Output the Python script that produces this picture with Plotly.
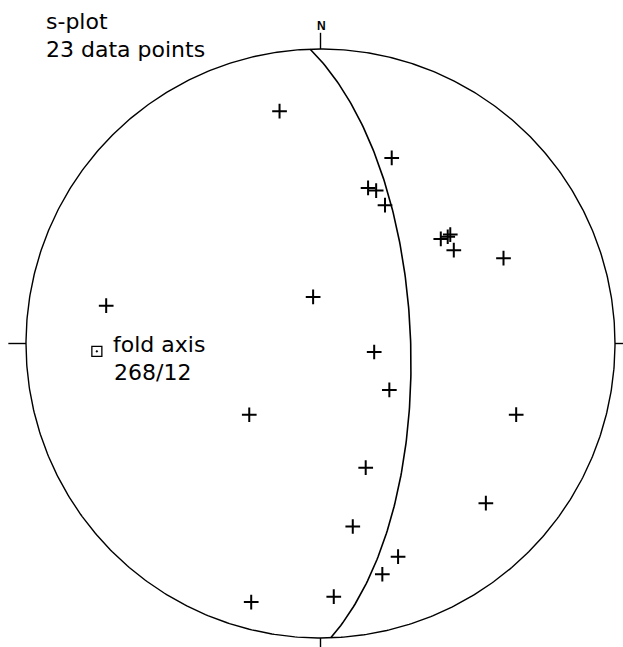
import numpy as np
import plotly.graph_objects as go

# Poles to s-surfaces (trend, plunge in degrees)
pole_trend = [350, 280, 21, 17, 20, 25, 49, 50, 50, 55, 65, 351,
              225, 195, 99, 124, 110, 160, 134, 170, 160, 165, 177]
pole_plunge = [21, 27, 33, 44, 44, 47, 45, 43, 42, 44, 32, 77,
               62, 10, 75, 67, 30, 53, 23, 37, 24, 20, 15]

# Fold axis (pole of the best-fit girdle)
fold_axis_trend = 268
fold_axis_plunge = 25

title_lines = ["s-plot", "23 data points"]
fold_label_lines = ["fold axis", "268/12"]


def project(trend, plunge):
    """Lower-hemisphere equal-area (Schmidt) projection."""
    t = np.radians(np.asarray(trend, dtype=float))
    p = np.radians(np.asarray(plunge, dtype=float))
    r = np.sqrt(2.0) * np.sin((np.pi / 2 - p) / 2)
    return r * np.sin(t), r * np.cos(t)


def girdle(pole_t, pole_p, n=181):
    """Great circle of the plane whose pole is (pole_t, pole_p)."""
    dip_dir = (pole_t + 180) % 360
    dip = 90 - pole_p
    strike = (dip_dir - 90) % 360

    def vec(t, p):
        t, p = np.radians(t), np.radians(p)
        return np.array([np.cos(p) * np.cos(t), np.cos(p) * np.sin(t), np.sin(p)])

    s = vec(strike, 0)
    d = vec(dip_dir, dip)
    a = np.radians(np.linspace(0, 180, n))
    v = np.outer(np.cos(a), s) + np.outer(np.sin(a), d)
    v[v[:, 2] < 0] *= -1
    tr = np.degrees(np.arctan2(v[:, 1], v[:, 0])) % 360
    pl = np.degrees(np.arcsin(np.clip(v[:, 2], -1, 1)))
    return project(tr, pl)


fig = go.Figure()

# primitive circle
th = np.linspace(0, 2 * np.pi, 721)
fig.add_trace(go.Scatter(x=np.cos(th), y=np.sin(th), mode="lines",
                         line=dict(color="black", width=1.4), hoverinfo="skip"))

# cardinal ticks
tick = 0.06
for x0, y0, x1, y1 in [(0, 1, 0, 1 + 0.055), (-1, 0, -1 - tick, 0),
                       (1, 0, 1 + tick, 0), (0, -1, 0, -1 - tick)]:
    fig.add_trace(go.Scatter(x=[x0, x1], y=[y0, y1], mode="lines",
                             line=dict(color="black", width=1.4), hoverinfo="skip"))

# girdle
gx, gy = girdle(fold_axis_trend, fold_axis_plunge)
fig.add_trace(go.Scatter(x=gx, y=gy, mode="lines",
                         line=dict(color="black", width=1.6), hoverinfo="skip"))

# poles
px, py = project(pole_trend, pole_plunge)
fig.add_trace(go.Scatter(x=px, y=py, mode="markers",
                         marker=dict(symbol="cross-thin", size=10.5,
                                     line=dict(color="black", width=2))))

# fold axis
fx, fy = project([fold_axis_trend], [fold_axis_plunge])
fig.add_trace(go.Scatter(x=fx, y=fy, mode="markers",
                         marker=dict(symbol="square-open-dot", size=10, color="black",
                                     line=dict(color="black", width=1.3))))

font = dict(family="DejaVu Sans", size=22, color="black")
annotations = [
    dict(x=0.005, y=1.078, text="<b>N</b>", showarrow=False, xanchor="center",
         yanchor="middle", font=dict(family="Liberation Sans", size=12, color="black")),
    dict(x=-0.94, y=1.093, text=title_lines[0], showarrow=False,
         xanchor="left", yanchor="middle", font=font),
    dict(x=-0.94, y=0.997, text=title_lines[1], showarrow=False,
         xanchor="left", yanchor="middle", font=font),
    dict(x=-0.712, y=-0.005, text=fold_label_lines[0], showarrow=False,
         xanchor="left", yanchor="middle", font=font),
    dict(x=-0.708, y=-0.100, text=fold_label_lines[1], showarrow=False,
         xanchor="left", yanchor="middle", font=font),
]

fig.update_layout(
    width=623, height=647,
    margin=dict(l=0, r=0, t=0, b=0),
    paper_bgcolor="white", plot_bgcolor="white",
    showlegend=False,
    annotations=annotations,
    xaxis=dict(range=[-320.5 / 294.5, 302.5 / 294.5], visible=False, fixedrange=True),
    yaxis=dict(range=[-303.5 / 294.5, 343.5 / 294.5], visible=False, fixedrange=True),
)

fig.write_html("out.html")
